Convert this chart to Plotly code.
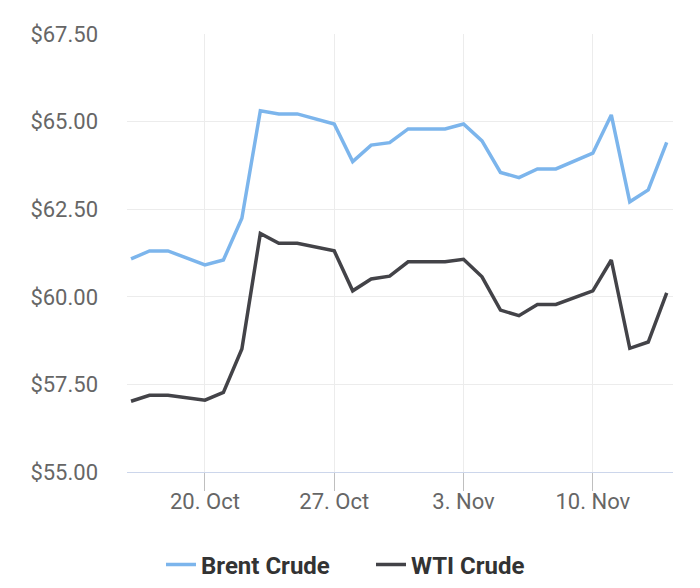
import plotly.graph_objects as go

dates = ["2025-10-16", "2025-10-17", "2025-10-18", "2025-10-20", "2025-10-21",
         "2025-10-22", "2025-10-23", "2025-10-24", "2025-10-25", "2025-10-27",
         "2025-10-28", "2025-10-29", "2025-10-30", "2025-10-31", "2025-11-01",
         "2025-11-02", "2025-11-03", "2025-11-04", "2025-11-05", "2025-11-06",
         "2025-11-07", "2025-11-08", "2025-11-10", "2025-11-11", "2025-11-12",
         "2025-11-13", "2025-11-14"]

brent = [61.08, 61.31, 61.31, 60.91, 61.05, 62.24, 65.31, 65.22, 65.22, 64.93,
         63.86, 64.33, 64.40, 64.79, 64.79, 64.79, 64.93, 64.45, 63.55, 63.40,
         63.65, 63.65, 64.10, 65.19, 62.71, 63.05, 64.41]

wti = [57.02, 57.19, 57.19, 57.05, 57.27, 58.51, 61.81, 61.53, 61.53, 61.31,
       60.17, 60.51, 60.59, 61.00, 61.00, 61.00, 61.07, 60.57, 59.62, 59.46,
       59.78, 59.78, 60.17, 61.05, 58.53, 58.71, 60.11]

x_tick_vals = ["2025-10-20", "2025-10-27", "2025-11-03", "2025-11-10"]
x_tick_text = ["20. Oct", "27. Oct", "3. Nov", "10. Nov"]
y_tick_vals = [55, 57.5, 60, 62.5, 65, 67.5]
y_tick_text = ["$55.00", "$57.50", "$60.00", "$62.50", "$65.00", "$67.50"]

fig = go.Figure()
fig.add_trace(go.Scatter(x=dates, y=brent, mode="lines", name="Brent Crude",
                         line=dict(color="#7cb5ec", width=3.5)))
fig.add_trace(go.Scatter(x=dates, y=wti, mode="lines", name="WTI Crude",
                         line=dict(color="#434348", width=3.5)))

fig.update_layout(
    width=700, height=588,
    margin=dict(l=127, r=27, t=34, b=116, autoexpand=False),
    paper_bgcolor="white", plot_bgcolor="white",
    font=dict(family="Roboto", size=22, color="#666666"),
    showlegend=True,
    legend=dict(orientation="h", xref="container", yref="container",
                x=0.53, xanchor="center", y=1 - 565 / 588, yanchor="middle",
                font=dict(family="Roboto", size=24, color="#333333", weight="bold"),
                itemwidth=30, entrywidth=165, entrywidthmode="pixels",
                tracegroupgap=0),
    xaxis=dict(type="date", range=["2025-10-15 18:45", "2025-11-14 08:10"],
               tickvals=x_tick_vals, ticktext=x_tick_text,
               showgrid=True, gridcolor="#ececec", gridwidth=1,
               showline=True, linecolor="#ccd6eb", linewidth=1,
               ticks="outside", ticklen=18, tickcolor="#bfbfbf", tickwidth=1,
               ticklabelstandoff=-8,
               zeroline=False, automargin=False,
               tickfont=dict(family="Roboto", size=22, color="#666666")),
    yaxis=dict(range=[55, 67.5], tickvals=y_tick_vals, ticktext=y_tick_text,
               showgrid=True, gridcolor="#ececec", gridwidth=1,
               zeroline=False, showline=False, ticks="", ticklabelstandoff=28,
               automargin=False,
               tickfont=dict(family="Roboto", size=22, color="#666666")),
)

fig.write_html("out.html", config={"displayModeBar": False},
               post_script="document.body.style.margin='0';")
